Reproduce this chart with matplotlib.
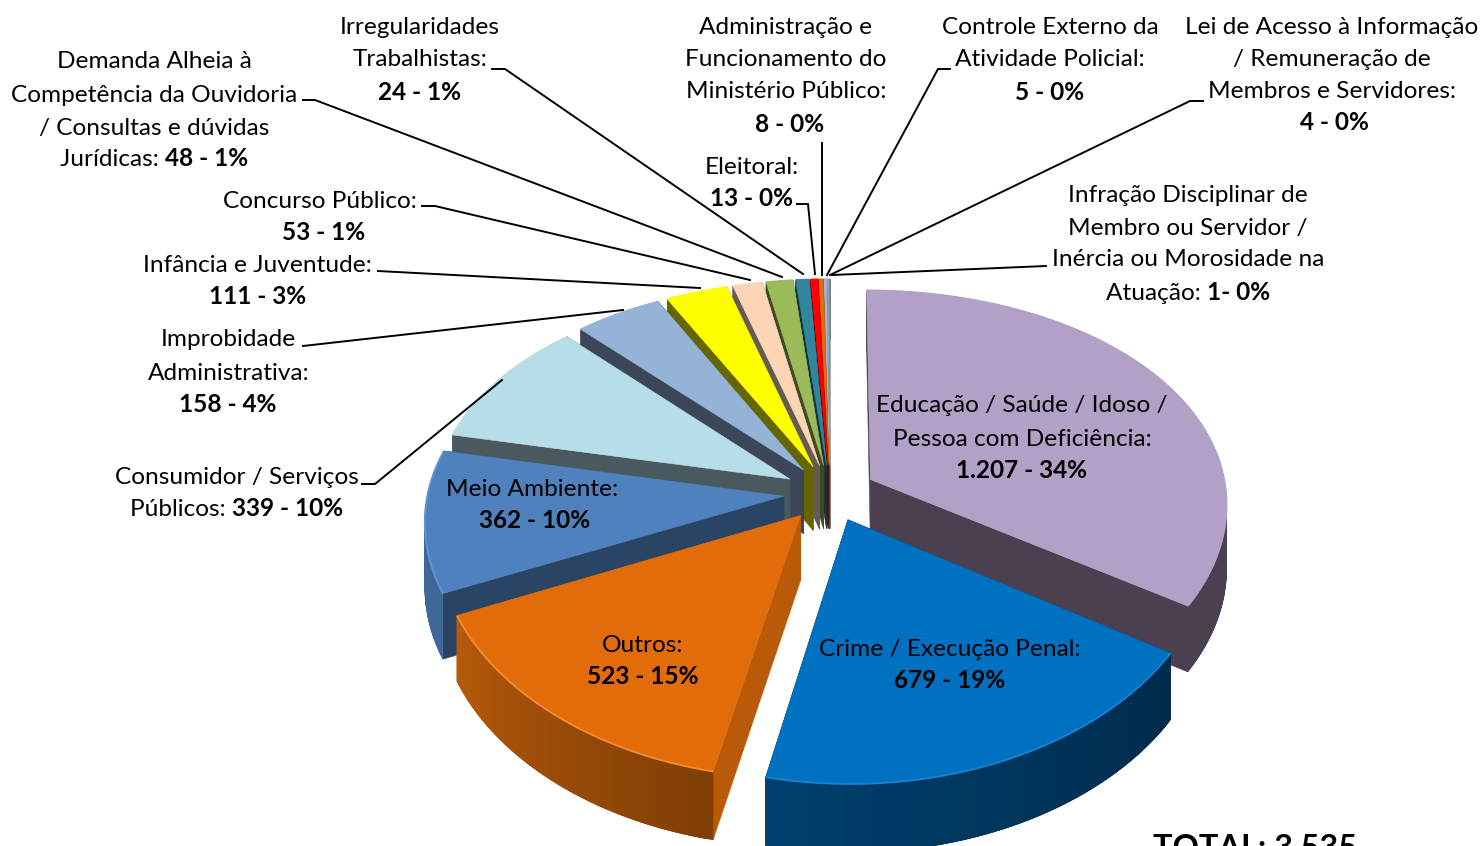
import numpy as np
import matplotlib
matplotlib.use("Agg")
import matplotlib.pyplot as plt
from matplotlib.patches import Polygon
from matplotlib.colors import to_rgb

categories = ["Educação / Saúde / Idoso / Pessoa com Deficiência", "Crime / Execução Penal", "Outros",
              "Meio Ambiente", "Consumidor / Serviços Públicos", "Improbidade Administrativa",
              "Infância e Juventude", "Concurso Público", "Demanda Alheia", "Irregularidades Trabalhistas",
              "Eleitoral", "Administração e Funcionamento", "Controle Externo", "Lei de Acesso", "Infração Disciplinar"]
values = [1207, 679, 523, 362, 339, 158, 111, 53, 48, 24, 13, 8, 5, 4, 1]
top_colors = ["#B2A1C7", "#0070C0", "#E36C0A", "#4F81BD", "#B7DEE8", "#95B3D7", "#FFFF00", "#FCD5B5",
              "#9BBB59", "#31859C", "#FF0000", "#E46C0A", "#A6B8D8", "#8EA5C8", "#C3D69B"]
cut_colors = ["#4A4050", "#002D50", "#B85A08", "#2A4463", "#4A595D", "#3B4658", "#666600", "#655B50",
              "#3E4A24", "#14353F", "#660000", "#5B2B04", "#424A57", "#38424F", "#4E5640"]
rim_start = ["#4A4050", "#002B4C", "#7F3F05", "#3F6797", "#4A595D", "#3B4658", "#666600", "#655B50",
             "#3E4A24", "#14353F", "#660000", "#5B2B04", "#424A57", "#38424F", "#4E5640"]
rim_end = ["#4A4050", "#00406E", "#B85A0C", "#3F6797", "#4A595D", "#3B4658", "#666600", "#655B50",
           "#3E4A24", "#14353F", "#660000", "#5B2B04", "#424A57", "#38424F", "#4E5640"]
rim_light = ["#B2A1C7", "#1A80D0", "#F08A30", "#5A94D6", "#B7DEE8", "#95B3D7", "#FFFF00", "#FCD5B5",
             "#9BBB59", "#31859C", "#FF0000", "#E46C0A", "#A6B8D8", "#8EA5C8", "#C3D69B"]

BL, B = "regular", "bold"
labels = [
    (154, 60, [("Demanda Alheia à", BL)]), (154, 93, [("Competência da Ouvidoria", BL)]),
    (154, 126, [("/ Consultas e dúvidas", BL)]), (154, 158, [("Jurídicas: ", BL), ("48 - 1%", B)]),
    (420, 26, [("Irregularidades", BL)]), (420, 58, [("Trabalhistas:", BL)]), (420, 91, [("24 - 1%", B)]),
    (786, 25, [("Administração e", BL)]), (786, 58, [("Funcionamento do", BL)]),
    (786, 90, [("Ministério Público:", BL)]), (790, 123, [("8 - 0%", B)]),
    (752, 165, [("Eleitoral:", BL)]), (752, 197, [("13 - 0%", B)]),
    (1050, 26, [("Controle Externo da", BL)]), (1050, 58, [("Atividade Policial:", BL)]), (1050, 91, [("5 - 0%", B)]),
    (1332, 25, [("Lei de Acesso à Informação", BL)]), (1332, 57, [("/ Remuneração de", BL)]),
    (1332, 90, [("Membros e Servidores:", BL)]), (1335, 122, [("4 - 0%", B)]),
    (1188, 193, [("Infração Disciplinar de", BL)]), (1188, 226, [("Membro ou Servidor /", BL)]),
    (1188, 258, [("Inércia ou Morosidade na", BL)]), (1188, 291, [("Atuação: ", BL), ("1- 0%", B)]),
    (320, 199, [("Concurso Público:", BL)]), (324, 231, [("53 - 1%", B)]),
    (257, 264, [("Infância e Juventude:", BL)]), (258, 296, [("111 - 3%", B)]),
    (228, 338, [("Improbidade", BL)]), (229, 371, [("Administrativa:", BL)]), (228, 404, [("158 - 4%", B)]),
    (237, 475, [("Consumidor / Serviços", BL)]), (237, 508, [("Públicos: ", BL), ("339 - 10%", B)]),
    (1022, 404, [("Educação / Saúde / Idoso /", BL)]), (1022, 437, [("Pessoa com Deficiência:", BL)]),
    (1022, 469, [("1.207 - 34%", B)]),
    (532, 488, [("Meio Ambiente:", BL)]), (535, 520, [("362 - 10%", B)]),
    (643, 643, [("Outros:", BL)]), (643, 676, [("523 - 15%", B)]),
    (950, 647, [("Crime / Execução Penal:", BL)]), (950, 680, [("679 - 19%", B)]),
]
leaders = [
    [(492, 69), (505, 69), (803, 274)],
    [(303, 100), (315, 100), (782, 277)],
    [(422, 206), (435, 206), (750, 280)],
    [(378, 271), (700, 288)],
    [(303, 346), (623, 310)],
    [(362, 484), (375, 484), (502, 380)],
    [(797, 204), (808, 204), (815, 274)],
    [(822, 143), (822, 275)],
    [(950, 69), (938, 69), (827, 275)],
    [(1203, 101), (1190, 101), (830, 275)],
    [(1046, 266), (832, 275)],
]

CX, CY, H, V, P, DEPTH, EXPL = 830.0, 493.0, 356.0, 219.0, 0.14, 64.0, 0.13


def project(x, y, z=0.0):
    s = 1.0 / (1.0 + P * y)
    return CX + H * x * s ** 0.75, CY - V * y * s + z * DEPTH * s ** 0.4


fig = plt.figure(figsize=(14.83, 8.46), dpi=100)
ax = fig.add_axes([0, 0, 1, 1])
ax.set_xlim(0, 1483)
ax.set_ylim(846, 0)
ax.axis("off")

vals = np.array(values, dtype=float)
edges = np.concatenate([[0], np.cumsum(vals)]) / vals.sum() * 2 * np.pi
mids = (edges[:-1] + edges[1:]) / 2


def blend(a, b, t):
    a, b = np.array(to_rgb(a)), np.array(to_rgb(b))
    return tuple(a + (b - a) * t)


order = np.argsort(-np.cos(mids))
z = 2
for i in order:
    a0, a1 = edges[i], edges[i + 1]
    ox, oy = EXPL * np.sin(mids[i]), EXPL * np.cos(mids[i])
    th = np.linspace(a0, a1, max(3, int(np.degrees(a1 - a0) * 1.5) + 2))
    rx, ry = ox + np.sin(th), oy + np.cos(th)

    def add(pts, col, zo):
        ax.add_patch(Polygon(pts, closed=True, facecolor=col, edgecolor=col, lw=0.4, zorder=zo))

    # cut walls
    for k in (0, -1):
        pts = [project(ox, oy), project(rx[k], ry[k]), project(rx[k], ry[k], 1), project(ox, oy, 1)]
        add(pts, cut_colors[i], z)
    # outer wall: strips overlap their neighbour so no seams show
    n = len(th)
    for k in range(n - 1):
        t = k / max(1, n - 2)
        e = min(k + 2, n - 1)
        pts = [project(rx[k], ry[k])] + [project(rx[j], ry[j]) for j in range(k + 1, e + 1)] + \
              [project(rx[j], ry[j], 1) for j in range(e, k - 1, -1)]
        add(pts, blend(rim_start[i], rim_end[i], t), z + 0.1 + 0.0001 * (n - k))
    # top
    top = [project(ox, oy)] + [project(a, b) for a, b in zip(rx, ry)]
    add(top, top_colors[i], z + 0.2)
    # bevel
    px, py = project(rx, ry)
    ax.plot(px, py, color=rim_light[i], lw=1.4, zorder=z + 0.3, solid_capstyle="butt")
    z += 1

for path in leaders:
    xs, ys = zip(*path)
    ax.plot(xs, ys, color="black", lw=1.4, zorder=50, solid_joinstyle="miter")

FS = 17.6
plt.rcParams["font.family"] = ["Lato", "DejaVu Sans"]
rend = fig.canvas.get_renderer()
for cx, cy, runs in labels:
    objs = [ax.text(0, cy + 8.5, s, fontsize=FS, fontweight=w, color="black", va="baseline", ha="left",
                    zorder=60) for s, w in runs]
    widths = [o.get_window_extent(rend).width for o in objs]
    x = cx - sum(widths) / 2
    for o, wd in zip(objs, widths):
        o.set_x(x)
        x += wd

ax.text(1255, 858, "TOTAL: 3.535", fontsize=23.4, fontweight="bold", ha="center", va="baseline",
        color="black", zorder=60, clip_on=False)

fig.savefig("out.png", dpi=100, facecolor="white")
